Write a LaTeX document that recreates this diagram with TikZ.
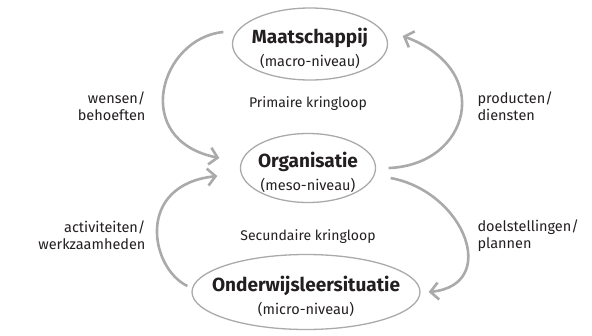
\documentclass[tikz,border=0pt]{standalone}
\usepackage{fontspec}
\setmainfont{Fira Sans}
\usepackage{tikz}
\usetikzlibrary{arrows.meta,shapes,positioning}
\usetikzlibrary{calc,shapes.geometric}
\definecolor{grijs}{RGB}{170,170,170}
\definecolor{inkt}{RGB}{35,31,32}

\begin{document}
\begin{tikzpicture}[x=1pt,y=-1pt,font=\fontsize{14.5}{17}\selectfont,text=inkt]
%niveau : ellips rond naam en niveau, de tekst staat als label in het midden
\tikzset{niveau/.style={ellipse,draw=grijs,line width=1.3pt,inner sep=0pt}} %stijl van de drie niveaus
\tikzset{naam/.style={align=center,font=\fontsize{19}{24}\selectfont\bfseries}}
\tikzset{kring/.style={draw=grijs,line width=2.6pt,-{Straight Barb[length=8pt,width=17pt]}}} %stijl van de pijlen
\useasboundingbox (0,0) rectangle (592,335);
\node[niveau,minimum width=155pt,minimum height=72pt,
  label={[naam,yshift=-4pt]center:{Maatschappij\\[-1pt]{\fontsize{14.5}{16}\selectfont\mdseries (macro-niveau)}}}] (maat) at (310,44) {};
\node[niveau,minimum width=135pt,minimum height=69pt,
  label={[naam,yshift=-4pt]center:{Organisatie\\[-1pt]{\fontsize{14.5}{16}\selectfont\mdseries (meso-niveau)}}}] (org) at (308,168) {};
\node[niveau,minimum width=228pt,minimum height=75pt,
  label={[naam,yshift=-4pt]center:{Onderwijsleersituatie\\[-1pt]{\fontsize{14.5}{16}\selectfont\mdseries (micro-niveau)}}}] (onder) at (306,292) {};
%de twee kringlopen
\node[font=\fontsize{14}{16}\selectfont] (prim) at (308,104) {Primaire kringloop};
\node[font=\fontsize{14}{16}\selectfont] (sec) at (308,237) {Secundaire kringloop};
%tekst bij de pijlen
\node[anchor=east,align=right] (wensen) at (149,106) {wensen/\\behoeften};
\node[anchor=east,align=right] (activ) at (149,235) {activiteiten/\\werkzaamheden};
\node[anchor=west,align=left] (prod) at (474,106) {producten/\\diensten};
\node[anchor=west,align=left] (doel) at (474,236) {doelstellingen/\\plannen};
%pijlen
\draw[kring] ([shift={(-8.5,-12)}]maat.west) .. controls (160,38) and (130,140) .. ([shift={(-20.5,-10)}]org.west);
\draw[kring] ([shift={(-4,-6)}]onder.west) .. controls (150,268) and (135,185) .. ([shift={(-22.5,8)}]org.west);
\draw[kring] ([shift={(12.5,0)}]org.east) .. controls (470,165) and (495,70) .. ([shift={(14.5,-8)}]maat.east);
\draw[kring] ([shift={(14.5,10)}]org.east) .. controls (465,192) and (500,285) .. ([shift={(8,0)}]onder.east);
\end{tikzpicture}
\end{document}
